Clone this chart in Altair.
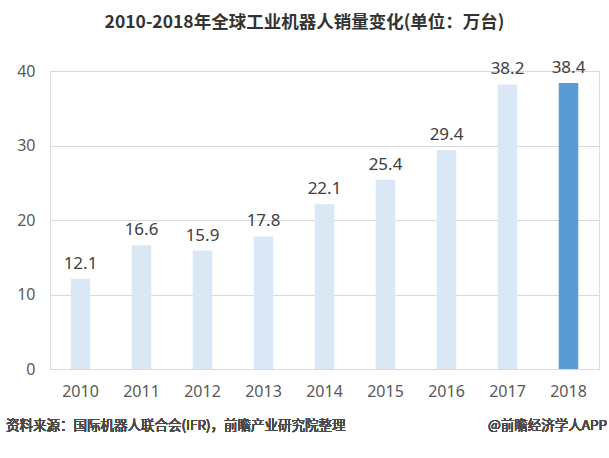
import altair as alt
import pandas as pd

# Global industrial robot sales, 2010-2018 (unit: 10k units)
years = ["2010", "2011", "2012", "2013", "2014", "2015", "2016", "2017", "2018"]
sales = [12.1, 16.6, 15.9, 17.8, 22.1, 25.4, 29.4, 38.2, 38.4]
highlight = [False, False, False, False, False, False, False, False, True]

df = pd.DataFrame({"year": years, "sales": sales, "highlight": highlight})

FONT = "Noto Sans"
CJK = "Noto Sans CJK SC"

base = alt.Chart(df).encode(
    x=alt.X(
        "year:N",
        sort=years,
        scale=alt.Scale(paddingInner=0.68, paddingOuter=0.34),
        axis=alt.Axis(
            title=None, labelAngle=0, ticks=False, domain=False,
            labelFont=FONT, labelFontSize=16, labelColor="#595959", labelPadding=14,
        ),
    ),
    y=alt.Y(
        "sales:Q",
        scale=alt.Scale(domain=[0, 40]),
        axis=alt.Axis(
            title=None, values=[0, 10, 20, 30, 40], ticks=False, domain=False,
            grid=True, gridColor="#d9d9d9", gridWidth=1,
            labelFont=FONT, labelFontSize=16, labelColor="#595959", labelPadding=15,
        ),
    ),
)

bars = base.mark_bar().encode(
    color=alt.Color(
        "highlight:N",
        scale=alt.Scale(domain=[False, True], range=["#dae7f5", "#5b9bd5"]),
        legend=None,
    )
)

labels = base.mark_text(
    baseline="bottom", dy=-6, font=FONT, fontSize=17, color="#404040"
).encode(text=alt.Text("sales:Q", format=".1f"))

source = alt.Chart(df).mark_text(
    align="left", baseline="middle", font=CJK, fontSize=13.5,
    fontWeight="normal", color="#4a4a4a",
).encode(
    x=alt.value(-44),
    y=alt.value(355),
    text=alt.value("资料来源：国际机器人联合会(IFR)，前瞻产业研究院整理"),
)

brand = alt.Chart(df).mark_text(
    align="right", baseline="middle", font=CJK, fontSize=13.5,
    fontWeight="normal", color="#4a4a4a",
).encode(
    x=alt.value(557),
    y=alt.value(355),
    text=alt.value("@前瞻经济学人APP"),
)

chart = (
    alt.layer(bars, labels, source, brand)
    .properties(
        width=549,
        height=298,
        autosize=alt.AutoSizeParams(type="none"),
        padding={"left": 50, "top": 71, "right": 10, "bottom": 89},
        title=alt.TitleParams(
            "2010-2018年全球工业机器人销量变化(单位：万台)",
            font=CJK, fontSize=17.5, fontWeight="bold", color="#333333",
            anchor="middle", dx=-20, offset=27,
        ),
    )
    .configure_view(stroke=None)
    .configure(background="white")
)

chart.save("out.html", embed_options={"renderer": "svg", "actions": False})
